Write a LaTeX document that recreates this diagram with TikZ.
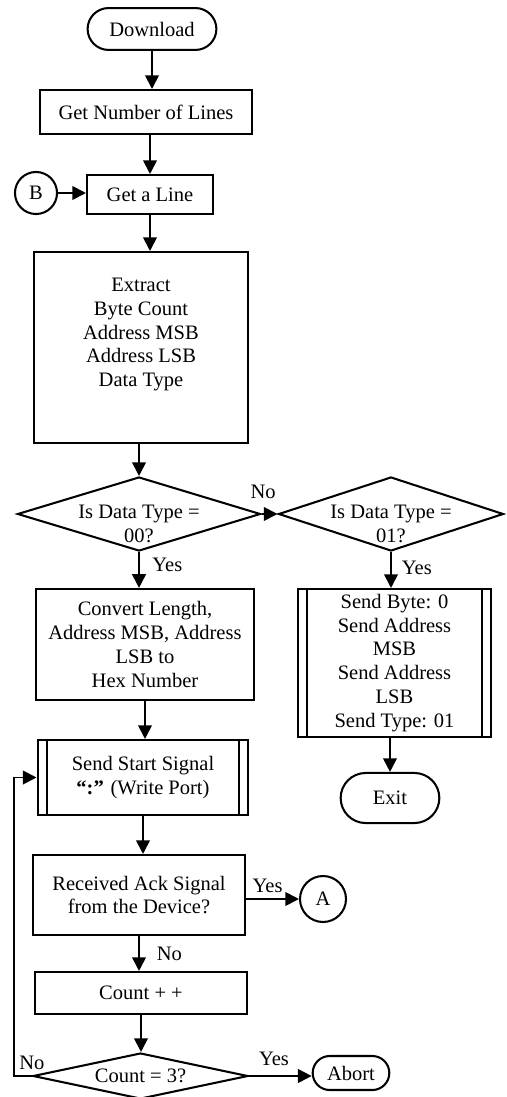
\documentclass[tikz,border=0pt]{standalone}
\usepackage{fontspec}
\setmainfont{Liberation Serif}
\usepackage{tikz}
\usetikzlibrary{shapes,arrows,arrows.meta}
\tikzstyle{block} = [draw, rectangle, text centered, align=center, line width=1.2pt]
\tikzstyle{term} = [draw, rounded rectangle, text centered, line width=1.2pt]
\tikzstyle{decision} = [draw, diamond, inner sep=0pt, line width=1.2pt]
\tikzstyle{conn} = [draw, circle, inner sep=0pt, line width=1.2pt]
\tikzset{
  line/.style ={draw, line width=1.1pt, -{Triangle[length=8pt,width=8pt]}}
}

\begin{document}
\begin{tikzpicture}[x=0.585pt, y=-0.585pt, font=\fontsize{12pt}{14pt}\selectfont]
	\useasboundingbox (0,0) rectangle (506,1097);
	\node[term, minimum width=82pt, minimum height=24.5pt] (dl) at (152,29) {Download};
	\node[block, minimum width=124pt, minimum height=25.7pt] (nlines) at (146,112) {Get Number of Lines};
	\node[block, minimum width=73.7pt, minimum height=22.8pt] (getline) at (150,194.5) {Get a Line};
	\node[conn, minimum size=24.6pt] (B) at (36,193) {B};
	\node[block, minimum width=125.2pt, minimum height=111.7pt, label={[align=center, yshift=7.6pt]center:{Extract\\Byte Count\\Address MSB\\Address LSB\\Data Type}}] (extract) at (141,347.5) {};
	\node[decision, minimum width=142.2pt, minimum height=43.3pt, label={[align=center, yshift=-6pt]center:{Is Data Type =\\00?}}] (d1) at (139,514) {};
	\node[decision, minimum width=131.6pt, minimum height=43.3pt, label={[align=center, yshift=-6pt]center:{Is Data Type =\\01?}}] (d2) at (391,514) {};
	\node[block, minimum width=127pt, minimum height=65pt] (convert) at (145,644.5) {Convert Length,\\Address MSB, Address\\LSB to\\Hex Number};
	\node[block, minimum width=112.9pt, minimum height=86.6pt, inner ysep=0pt] (sendhdr) at (394.5,663) {Send Byte: 0\\Send Address\\MSB\\Send Address\\LSB\\Send Type: 01};
	\node[term, minimum width=64.4pt, minimum height=29.3pt] (exit) at (390,798) {Exit};
	\node[block, minimum width=123.4pt, minimum height=43.9pt] (sendsig) at (143,777.5) {Send Start Signal\\\textbf{“:”} (Write Port)};
	\node[block, minimum width=124pt, minimum height=46.8pt] (ack) at (139,895) {Received Ack Signal\\from the Device?};
	\node[conn, minimum size=26.9pt] (A) at (323,899) {A};
	\node[block, minimum width=124pt, minimum height=24.6pt] (count) at (141,993) {Count + +};
	\node[decision, minimum width=125.8pt, minimum height=26.9pt, label={center:{Count = 3?}}] (d3) at (140.5,1076) {};
	\node[term, minimum width=51.5pt, minimum height=19.9pt] (abort) at (351,1073) {Abort};
	\coordinate (back) at (14,1076);
	% connectors
	\draw[line] (dl.south) -- (dl.south |- nlines.north);
	\draw[line] (nlines.south -| getline.north) -- (getline.north);
	\draw[line] (B.east) -- (B.east -| getline.west);
	\draw[line] (getline.south) -- (getline.south |- extract.north);
	\draw[line] (extract.south -| d1.north) -- (d1.north);
	\draw[line] (d1.east) -- node[pos=0.1, above=5pt] {No} (d2.west);
	\draw[line] (d1.south) -- node[pos=0.35, right=4pt] {Yes} (d1.south |- convert.north);
	\draw[line] (d2.south) -- node[pos=0.45, right=2.5pt] {Yes} (d2.south |- sendhdr.north);
	\draw[line] (sendhdr.south -| exit.north) -- (exit.north);
	\draw[line] (convert.south) -- (convert.south |- sendsig.north);
	\draw[line] (sendsig.south) -- (sendsig.south |- ack.north);
	\draw[line] (ack.east |- A) -- node[pos=0, above right] {Yes} (A.west);
	\draw[line] (ack.south) -- node[pos=0.5, right=6.5pt] {No} (ack.south |- count.north);
	\draw[line] (count.south) -- (count.south |- d3.north);
	\draw[line] (d3.east) -- node[pos=0, above right=2pt] {Yes} (d3.east -| abort.west);
	\draw[line] (d3.west) -- node[pos=0, above] {No} (back) |- (sendsig.west);
	% side bars of the two predefined process boxes
	\draw[line width=1.2pt] ([xshift=6pt]sendsig.north west) -- ([xshift=6pt]sendsig.south west);
	\draw[line width=1.2pt] ([xshift=-6pt]sendsig.north east) -- ([xshift=-6pt]sendsig.south east);
	\draw[line width=1.2pt] ([xshift=5.8pt]sendhdr.north west) -- ([xshift=5.8pt]sendhdr.south west);
	\draw[line width=1.2pt] ([xshift=-5.8pt]sendhdr.north east) -- ([xshift=-5.8pt]sendhdr.south east);
\end{tikzpicture}
\end{document}
